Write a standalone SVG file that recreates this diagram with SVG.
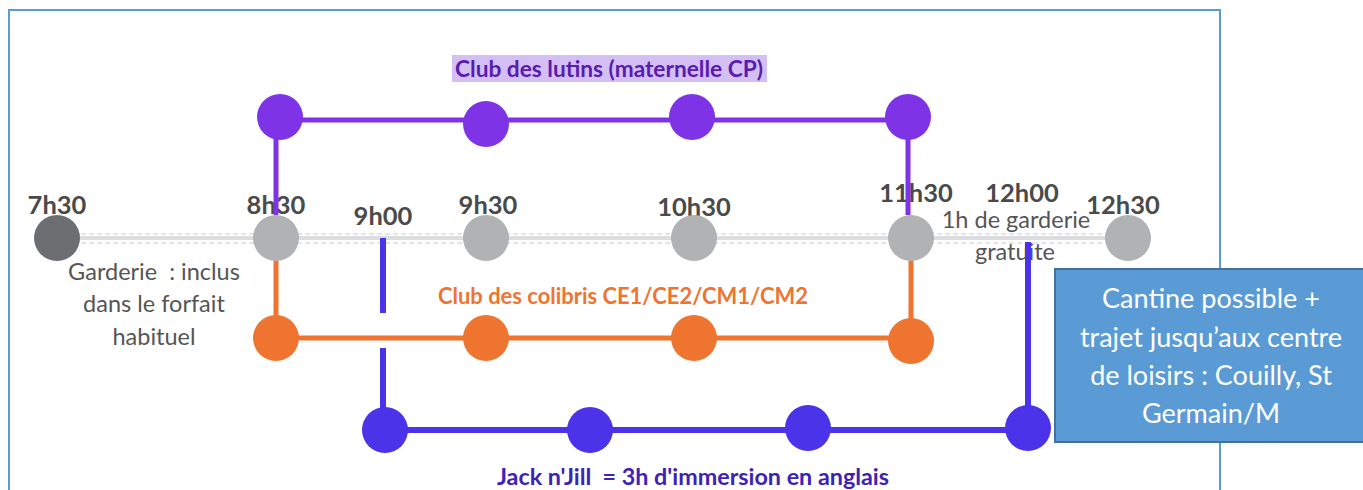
<svg xmlns="http://www.w3.org/2000/svg" width="1363" height="490" viewBox="0 0 1363 490">
<style>
.t{font-family:Lato,"Open Sans","Liberation Sans",sans-serif;font-weight:bold;font-size:25.5px;fill:#4a4a4a;text-anchor:middle}
.n{font-family:Lato,"Open Sans","Liberation Sans",sans-serif;font-size:23.5px;fill:#555;text-anchor:middle;white-space:pre}
.h{font-family:Lato,"Open Sans","Liberation Sans",sans-serif;font-weight:bold;font-size:23px;text-anchor:middle;white-space:pre}
.b{font-family:Lato,"Open Sans","Liberation Sans",sans-serif;font-size:27px;fill:#fff;text-anchor:middle}
.p{stroke:#7f33e7;stroke-width:5;fill:none}
.o{stroke:#ee7430;stroke-width:5;fill:none}
.j{stroke:#4a33e8;stroke-width:6;fill:none}
</style>
<rect x="9" y="10" width="1211" height="500" fill="#fff" stroke="#5b9bd5" stroke-width="2"/>
<g id="timeline">
<line x1="57" y1="238" x2="1128" y2="238" stroke="#dcdddf" stroke-width="4"/>
<line x1="57" y1="234" x2="1128" y2="234" stroke="#c8c9cc" stroke-width="1" stroke-dasharray="5,3"/>
<line x1="57" y1="243" x2="1128" y2="243" stroke="#c8c9cc" stroke-width="1" stroke-dasharray="5,3"/>
</g>
<g id="labels">
<text class="t" x="57" y="214">7h30</text>
<text class="t" x="276" y="214">8h30</text>
<text class="t" x="383" y="225">9h00</text>
<text class="t" x="488" y="214">9h30</text>
<text class="t" x="694" y="216">10h30</text>
<text class="t" x="916" y="202">11h30</text>
<text class="t" x="1022" y="202">12h00</text>
<text class="t" x="1123" y="214">12h30</text>
<text class="n" x="154" y="280">Garderie  : inclus</text>
<text class="n" x="154" y="312">dans le forfait</text>
<text class="n" x="154" y="345">habituel</text>
<text class="n" x="1016" y="228">1h de garderie</text>
<text class="n" x="1015" y="260">gratuite</text>
</g>
<g id="title-lutins">
<rect x="452" y="55" width="315" height="27" fill="#d4bff4"/>
<text class="h" x="609" y="77" fill="#5a1bb0" textLength="308" lengthAdjust="spacingAndGlyphs">Club des lutins (maternelle CP)</text>
</g>
<g id="title-colibris">
<text class="h" x="623" y="304" fill="#ee7430" textLength="370" lengthAdjust="spacingAndGlyphs">Club des colibris CE1/CE2/CM1/CM2</text>
</g>
<g id="title-jack">
<text class="h" x="693" y="485" fill="#3d22b5" textLength="392" lengthAdjust="spacingAndGlyphs">Jack n'Jill  = 3h d'immersion en anglais</text>
</g>
<g id="connectors">
<path class="p" d="M276 215 V120 H908 V215"/>
<path class="o" d="M276 240 V338 H911 V240"/>
<path class="j" d="M383 238 V313"/>
<path class="j" d="M383 348 V430 H1028 V242"/>
</g>
<g id="n-7h30"><circle cx="57" cy="238" r="23" fill="#6d6e71"/></g>
<g id="n-8h30"><circle cx="276" cy="238" r="23" fill="#b1b2b4"/></g>
<g id="n-9h30"><circle cx="486" cy="238" r="23" fill="#b1b2b4"/></g>
<g id="n-10h30"><circle cx="694" cy="238" r="23" fill="#b1b2b4"/></g>
<g id="n-11h30"><circle cx="911" cy="238" r="23" fill="#b1b2b4"/></g>
<g id="n-12h30"><circle cx="1128" cy="238" r="23" fill="#b1b2b4"/></g>
<g id="lutins-nodes" fill="#7f33e7">
<circle cx="280" cy="117" r="23"/>
<circle cx="486" cy="124" r="23"/>
<circle cx="692" cy="117" r="23"/>
<circle cx="908" cy="117" r="23"/>
</g>
<g id="colibris-nodes" fill="#ee7430">
<circle cx="276" cy="338" r="23"/>
<circle cx="486" cy="338" r="23"/>
<circle cx="694" cy="338" r="23"/>
<circle cx="911" cy="341" r="23"/>
</g>
<g id="jack-nodes" fill="#4a33e8">
<circle cx="385" cy="430" r="23"/>
<circle cx="590" cy="430" r="23"/>
<circle cx="808" cy="428" r="23"/>
<circle cx="1028" cy="428" r="23"/>
</g>
<g id="cantine">
<rect x="1055" y="269" width="310" height="173" fill="#5b9bd5" stroke="#41719c" stroke-width="2"/>
<text class="b" x="1211" y="308">Cantine possible +</text>
<text class="b" x="1211" y="347">trajet jusqu’aux centre</text>
<text class="b" x="1211" y="385">de loisirs : Couilly, St</text>
<text class="b" x="1211" y="423">Germain/M</text>
</g>
</svg>
